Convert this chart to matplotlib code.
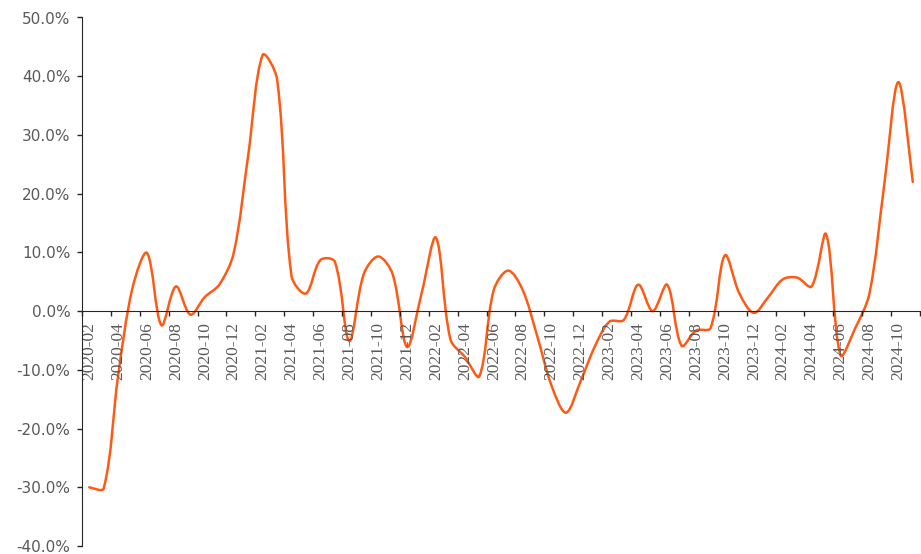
import numpy as np
import pandas as pd
import matplotlib
matplotlib.use('Agg')
import matplotlib.pyplot as plt
from matplotlib.path import Path
from matplotlib.patches import PathPatch
from matplotlib.ticker import FuncFormatter, FixedLocator, FixedFormatter

plt.rcParams['font.family'] = 'serif'
plt.rcParams['font.serif'] = ['Liberation Serif', 'DejaVu Serif']

months = [p.strftime('%Y-%m') for p in pd.period_range('2020-02', '2024-11', freq='M')]

# monthly yoy growth, %
growth = [
    -30.0, -30.2, -11.0, 4.0, 9.9, -2.4, 4.2, -0.6, 2.4, 4.5, 9.9,
    26.5, 43.6, 39.5, 6.0, 3.0, 8.7, 8.4, -5.1, 6.3, 9.3, 6.3, -6.1,
    3.0, 12.5, -4.8, -7.8, -11.1, 3.6, 6.9, 3.6, -4.2, -12.7, -17.3, -12.0,
    -6.0, -1.8, -1.5, 4.5, 0.0, 4.5, -5.9, -3.3, -2.9, 9.5, 3.0, -0.3,
    2.4, 5.4, 5.7, 4.2, 13.1, -7.5, -3.0, 3.0, 21.0, 39.0, 22.0,
]

y_ticks = [-40, -30, -20, -10, 0, 10, 20, 30, 40, 50]

line_color = '#FF5A14'
text_color = '#595959'
axis_color = '#262626'


def smooth_path(pts):
    # smoothed line in display space, control arms weighted by chord length
    # so short segments next to long jumps don't overshoot (like excel)
    n = len(pts)
    d = np.hypot(*np.diff(pts, axis=0).T)
    verts = [pts[0]]
    codes = [Path.MOVETO]
    for i in range(n - 1):
        p0 = pts[max(i - 1, 0)]
        p1 = pts[i]
        p2 = pts[i + 1]
        p3 = pts[min(i + 2, n - 1)]
        dp = d[i - 1] if i > 0 else d[i]
        dn = d[i + 1] if i + 2 < n else d[i]
        t1 = (p2 - p0) / 3.0 * d[i] / (dp + d[i])
        t2 = (p3 - p1) / 3.0 * d[i] / (d[i] + dn)
        verts += [p1 + t1, p2 - t2, p2]
        codes += [Path.CURVE4] * 3
    return Path(verts, codes)


def main():
    fig = plt.figure(figsize=(9.21, 5.54), dpi=100)
    ax = fig.add_axes([82 / 921, 8 / 554, 838 / 921, 528.5 / 554])

    n = len(months)
    x = np.arange(n) + 0.5
    ax.set_xlim(0, n)
    ax.set_ylim(-40, 50)

    pts = ax.transData.transform(np.column_stack([x, growth]))
    path = smooth_path(pts)
    ax.add_patch(PathPatch(path, fill=False, edgecolor=line_color, lw=1.8,
                           capstyle='round', joinstyle='round',
                           transform=None, clip_on=False))

    for s in ['top', 'right']:
        ax.spines[s].set_visible(False)
    ax.spines['bottom'].set_position(('data', 0))
    ax.spines['bottom'].set_color(axis_color)
    ax.spines['left'].set_color(axis_color)

    ax.set_yticks(y_ticks)
    ax.yaxis.set_major_formatter(FuncFormatter(lambda v, p: f'{v:.1f}%'))
    ax.tick_params(axis='y', direction='out', length=3.3, width=1, color=axis_color,
                   labelsize=11, labelcolor=text_color, pad=5)
    for lab in ax.get_yticklabels():
        lab.set_fontfamily('DejaVu Sans')

    ax.xaxis.set_major_locator(FixedLocator(np.arange(0, n + 1, 2)))
    ax.xaxis.set_major_formatter(FixedFormatter([]))
    ax.xaxis.set_minor_locator(FixedLocator(x[::2]))
    ax.xaxis.set_minor_formatter(FixedFormatter(months[::2]))
    ax.tick_params(axis='x', which='major', direction='out', length=3.6, width=1,
                   color=axis_color)
    ax.tick_params(axis='x', which='minor', length=0, pad=8,
                   labelsize=12.5, labelcolor=text_color, labelrotation=90)

    fig.savefig('out.png', dpi=100)


if __name__ == '__main__':
    main()
